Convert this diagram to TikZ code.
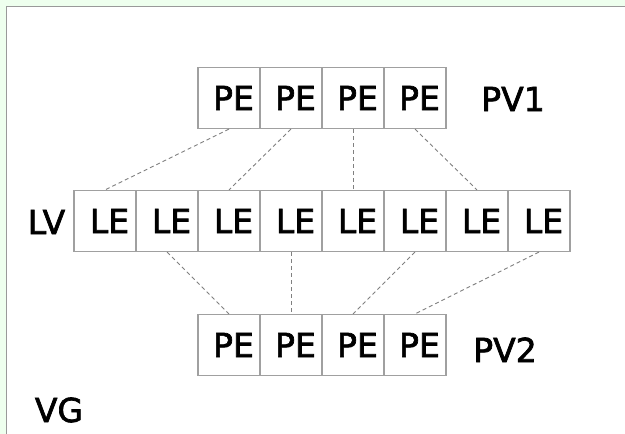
\documentclass[tikz,border=0pt]{standalone}
\usepackage{fontspec}
\setmainfont{DejaVu Sans}
\definecolor{bggreen}{HTML}{EEFFEE}
\definecolor{boxgray}{HTML}{A0A0A0}
\definecolor{dashgray}{HTML}{808080}
\newcommand\heavytxt[1]{\special{pdf:literal direct 2 Tr 0.7 w}#1\special{pdf:literal direct 0 Tr}}
\begin{document}
\begin{tikzpicture}[x=1pt,y=-1pt,
  cell/.style={draw=boxgray,line width=1.2pt,minimum width=62pt,minimum height=61pt,inner sep=0pt,
    font=\fontsize{33}{40}\selectfont,text height=24pt,text depth=0pt},
  link/.style={draw=dashgray,line width=0.9pt,dash pattern=on 4pt off 3pt},
  lbl/.style={inner sep=0pt,font=\fontsize{33}{40}\selectfont,text height=24pt,text depth=0pt}]
\useasboundingbox (0,0) rectangle (625,434);
\fill[bggreen] (0,0) rectangle (625,434);
\fill[white] (6,6) rectangle (625,434);
\draw[gray!80,line width=1pt] (6.5,434) -- (6.5,6.5) -- (625,6.5);
% PV1
\foreach \i/\x in {1/229,2/291,3/353,4/415}
  \node[cell] (a\i) at (\x,98) {\hspace*{9pt}\heavytxt{PE}};
% LV
\foreach \i/\x in {1/105,2/167,3/229,4/291,5/353,6/415,7/477,8/539}
  \node[cell] (l\i) at (\x,221) {\hspace*{9pt}\heavytxt{LE}};
% PV2
\foreach \i/\x in {1/229,2/291,3/353,4/415}
  \node[cell] (b\i) at (\x,345) {\hspace*{9pt}\heavytxt{PE}};
\node[lbl] (pv1) at (513,99) {\heavytxt{PV1}};
\node[lbl] (pv2) at (505,350) {\heavytxt{PV2}};
\node[lbl] (lv) at (46.5,222) {\heavytxt{LV}};
\node[lbl] (vg) at (59,410) {\heavytxt{VG}};
% links
\draw[link] (a1.south) -- (l1.north);
\draw[link] (a2.south) -- (l3.north);
\draw[link] (a3.south) -- (l5.north);
\draw[link] (a4.south) -- (l7.north);
\draw[link] (l2.south) -- (b1.north);
\draw[link] (l4.south) -- (b2.north);
\draw[link] (l6.south) -- (b3.north);
\draw[link] (l8.south) -- (b4.north);
\end{tikzpicture}
\end{document}
